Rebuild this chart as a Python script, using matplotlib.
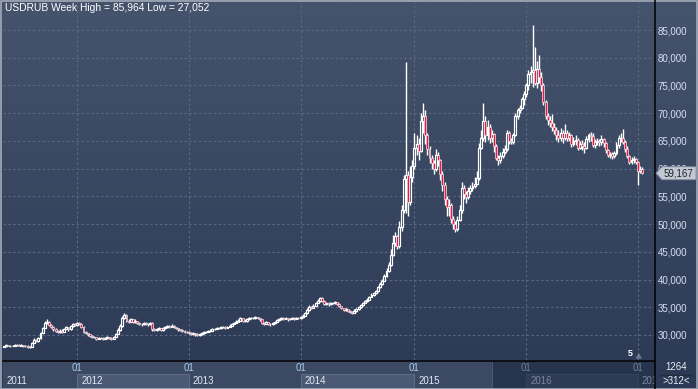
import matplotlib
matplotlib.use("Agg")
import matplotlib.pyplot as plt
import numpy as np
from matplotlib.patches import Rectangle, Polygon
from matplotlib.collections import LineCollection, PatchCollection

# ---------------- data (weekly USDRUB, May 2011 - Jan 2017) ----------------
close = [
    # 2011 (from mid May)
    27.95, 28.15, 28.05, 28.00, 28.10, 28.25, 28.20, 28.05, 28.15, 28.00, 28.10, 27.75,
    27.90, 28.60, 29.10, 28.90, 29.40, 30.40, 31.30, 32.20, 32.40, 31.80, 31.50, 31.00,
    30.70, 30.50, 30.80, 30.60, 31.10, 31.40, 31.00, 31.60, 32.00, 31.80,
    # 2012
    32.10, 32.00, 31.50, 30.50, 30.30, 30.10, 29.90, 29.70, 29.60, 29.30, 29.50, 29.40,
    29.30, 29.50, 29.60, 29.40, 29.30, 29.70, 30.20, 30.90, 31.60, 33.00, 33.60, 32.60,
    32.40, 32.80, 32.30, 32.50, 32.20, 32.00, 31.90, 32.10, 32.00, 31.90, 32.20, 31.00,
    30.90, 31.10, 31.20, 30.90, 31.20, 31.40, 31.60, 31.50, 31.70, 31.40, 31.20, 31.00,
    30.90, 30.70, 30.60, 30.50,
    # 2013
    30.40, 30.20, 30.30, 30.10, 30.00, 30.10, 30.30, 30.50, 30.60, 30.70, 30.80, 31.00,
    31.10, 31.30, 31.20, 31.50, 31.40, 31.30, 31.50, 31.70, 32.00, 32.20, 32.40, 32.60,
    33.00, 32.60, 32.50, 32.80, 33.00, 33.10, 33.00, 33.20, 33.00, 32.80, 32.10, 32.00,
    32.30, 32.00, 31.90, 32.10, 32.40, 32.70, 32.80, 33.00, 32.90, 33.00, 32.80, 32.90,
    33.00, 32.90, 33.10, 33.00,
    # 2014
    33.20, 33.50, 33.90, 34.50, 35.10, 34.90, 35.30, 35.80, 36.20, 36.60, 36.20, 35.60,
    35.80, 35.50, 35.80, 35.70, 35.90, 35.60, 35.20, 34.80, 34.50, 34.60, 34.40, 34.20,
    34.00, 34.40, 34.60, 35.00, 35.40, 35.80, 36.10, 36.40, 36.90, 37.20, 37.50, 37.90,
    38.60, 39.20, 39.80, 40.60, 41.50, 42.60, 44.50, 46.50, 47.80, 46.00, 49.50, 52.50,
    58.20, 58.80, 54.00, 58.50,
    # 2015
    60.50, 63.80, 64.50, 63.20, 68.50, 69.50, 66.00, 63.50, 62.00, 61.00, 60.00, 62.50,
    61.50, 59.00, 57.00, 54.50, 53.00, 53.50, 51.00, 50.00, 49.20, 50.80, 52.50, 56.50,
    55.50, 54.80, 56.00, 56.50, 56.80, 57.20, 58.30, 63.80, 65.50, 68.50, 66.00, 67.50,
    65.50, 66.20, 64.00, 62.00, 61.50, 62.20, 63.00, 63.50, 66.50, 65.00, 64.80, 66.00,
    69.50, 70.50, 71.00, 72.50,
    # 2016
    73.50, 75.00, 77.00, 77.50, 77.80, 75.50, 78.00, 76.50, 75.00, 72.00, 69.50, 68.70,
    68.20, 67.50, 67.00, 66.00, 65.50, 66.50, 65.50, 66.50, 65.50, 66.00, 64.50, 65.00,
    65.20, 63.80, 64.50, 64.00, 63.80, 65.30, 66.00, 65.80, 64.20, 64.80, 65.00, 64.80,
    65.40, 64.60, 63.40, 62.50, 62.60, 62.30, 62.80, 64.20, 65.50, 65.50, 64.80, 63.50,
    62.30, 61.20, 61.60, 61.80, 61.20, 59.50,
    # 2017
    60.00, 59.167,
]
high = [
    28.10, 28.30, 28.25, 28.20, 28.25, 28.40, 28.35, 28.30, 28.30, 28.25, 28.20, 28.15,
    28.10, 28.80, 29.40, 29.30, 29.70, 30.60, 31.50, 32.50, 32.90, 32.50, 32.00, 31.60,
    31.20, 30.90, 31.00, 31.00, 31.30, 31.60, 31.50, 31.80, 32.20, 32.20,
    32.30, 32.30, 32.10, 31.60, 30.70, 30.40, 30.20, 30.00, 29.90, 29.70, 29.70, 29.70,
    29.60, 29.70, 29.80, 29.70, 29.60, 29.90, 30.40, 31.20, 31.90, 33.40, 34.00, 33.70,
    32.80, 33.10, 32.90, 32.80, 32.60, 32.40, 32.20, 32.30, 32.30, 32.20, 32.40, 32.30,
    31.20, 31.30, 31.40, 31.30, 31.40, 31.60, 31.80, 31.80, 31.90, 31.80, 31.50, 31.30,
    31.10, 31.00, 30.90, 30.80,
    30.70, 30.50, 30.50, 30.40, 30.30, 30.30, 30.50, 30.70, 30.80, 30.90, 31.00, 31.20,
    31.30, 31.50, 31.50, 31.70, 31.70, 31.60, 31.70, 31.90, 32.20, 32.40, 32.70, 32.90,
    33.20, 33.10, 32.80, 33.00, 33.20, 33.30, 33.30, 33.40, 33.30, 33.10, 32.90, 32.30,
    32.50, 32.40, 32.20, 32.30, 32.60, 32.90, 33.00, 33.20, 33.20, 33.20, 33.10, 33.10,
    33.20, 33.20, 33.30, 33.30,
    33.40, 33.70, 34.10, 34.80, 35.40, 35.30, 35.50, 36.00, 36.50, 36.90, 36.80, 36.30,
    36.00, 35.90, 36.00, 36.00, 36.10, 36.00, 35.70, 35.30, 34.90, 34.80, 34.70, 34.50,
    34.30, 34.60, 34.80, 35.20, 35.60, 36.00, 36.40, 36.70, 37.10, 37.50, 37.80, 38.20,
    38.90, 39.50, 40.10, 41.00, 42.00, 43.20, 45.50, 48.00, 48.60, 48.00, 50.50, 53.50,
    58.80, 79.20, 59.50, 60.50,
    61.50, 66.40, 66.00, 65.50, 70.00, 71.80, 70.50, 66.50, 64.00, 62.50, 61.50, 63.50,
    63.00, 61.80, 59.50, 57.50, 55.00, 54.50, 53.80, 51.50, 50.50, 51.50, 53.50, 57.50,
    57.00, 56.00, 56.70, 57.00, 57.50, 58.50, 59.50, 64.60, 67.00, 71.80, 69.50, 68.80,
    68.00, 67.00, 66.50, 64.50, 62.50, 63.00, 63.80, 64.20, 67.00, 66.80, 65.50, 66.50,
    70.00, 71.00, 71.50, 73.00,
    74.00, 75.50, 77.80, 78.50, 85.96, 81.90, 79.50, 80.50, 77.50, 75.50, 72.30, 70.00,
    69.50, 69.80, 68.20, 67.50, 67.00, 67.30, 67.00, 68.00, 67.00, 66.60, 66.20, 65.70,
    66.00, 65.50, 65.00, 65.20, 64.80, 65.80, 66.50, 66.60, 66.40, 65.30, 65.60, 65.40,
    66.00, 65.60, 64.80, 63.60, 63.00, 63.00, 63.20, 64.80, 66.00, 66.50, 67.20, 65.20,
    64.00, 62.50, 62.10, 62.20, 62.00, 61.30,
    60.50, 60.30,
]
low = [
    27.75, 27.90, 27.95, 27.90, 27.95, 28.00, 28.05, 27.95, 27.95, 27.90, 27.90, 27.60,
    27.65, 27.85, 28.50, 28.70, 28.80, 29.30, 30.30, 31.20, 32.00, 31.60, 31.30, 30.80,
    30.50, 30.30, 30.40, 30.40, 30.50, 31.00, 30.80, 30.90, 31.50, 31.60,
    31.70, 31.80, 31.30, 30.30, 30.10, 29.90, 29.70, 29.50, 29.40, 29.10, 29.20, 29.20,
    29.10, 29.20, 29.30, 29.20, 29.10, 29.20, 29.60, 30.10, 30.80, 31.50, 32.80, 32.40,
    32.10, 32.30, 32.10, 32.20, 32.00, 31.80, 31.70, 31.80, 31.80, 31.70, 31.80, 30.80,
    30.70, 30.80, 30.90, 30.70, 30.80, 31.10, 31.30, 31.30, 31.40, 31.20, 31.00, 30.80,
    30.70, 30.50, 30.40, 30.30,
    30.20, 30.00, 30.00, 29.90, 29.80, 29.90, 30.00, 30.20, 30.40, 30.50, 30.60, 30.70,
    30.90, 31.00, 31.00, 31.10, 31.20, 31.10, 31.20, 31.40, 31.60, 31.90, 32.10, 32.30,
    32.50, 32.40, 32.30, 32.40, 32.70, 32.90, 32.80, 32.90, 32.80, 32.60, 31.90, 31.80,
    31.90, 31.80, 31.70, 31.80, 32.00, 32.30, 32.60, 32.70, 32.70, 32.80, 32.60, 32.70,
    32.80, 32.70, 32.80, 32.80,
    32.90, 33.10, 33.40, 33.80, 34.40, 34.70, 34.80, 35.20, 35.70, 36.00, 36.00, 35.40,
    35.40, 35.30, 35.40, 35.50, 35.60, 35.40, 35.00, 34.60, 34.30, 34.30, 34.20, 34.00,
    33.80, 33.90, 34.20, 34.50, 34.90, 35.30, 35.70, 36.00, 36.30, 36.80, 37.10, 37.40,
    37.80, 38.50, 39.10, 39.70, 40.50, 41.40, 42.50, 44.30, 46.00, 45.50, 45.70, 48.80,
    52.00, 52.00, 51.50, 53.50,
    57.50, 60.00, 62.50, 61.60, 63.00, 66.50, 64.50, 62.50, 61.00, 60.00, 59.00, 59.50,
    60.50, 58.00, 56.00, 53.50, 51.50, 51.50, 50.20, 49.20, 48.50, 48.80, 50.50, 52.00,
    54.50, 53.80, 54.50, 55.50, 56.00, 56.50, 57.00, 58.00, 63.50, 65.00, 64.80, 65.20,
    64.60, 64.80, 63.00, 61.50, 60.60, 61.00, 62.00, 62.60, 63.20, 64.50, 64.40, 64.50,
    65.80, 69.00, 70.00, 70.80,
    71.50, 73.00, 74.20, 75.50, 74.70, 75.00, 74.50, 75.50, 74.00, 71.50, 69.00, 67.80,
    67.50, 66.80, 66.20, 65.20, 64.80, 65.00, 64.60, 65.20, 65.00, 65.00, 63.90, 64.00,
    64.30, 63.30, 63.50, 63.40, 62.80, 63.50, 64.80, 65.00, 63.90, 63.80, 64.30, 64.00,
    64.30, 63.90, 62.80, 62.10, 62.00, 61.80, 62.00, 62.50, 63.80, 64.80, 64.50, 63.00,
    62.00, 60.90, 60.80, 61.00, 60.80, 57.05,
    59.20, 59.00,
]
first_open = 27.85
year_labels = ["2011", "2012", "2013", "2014", "2015", "2016", "2017"]
year_start_idx = [34, 86, 138, 191, 243, 295]     # first weekly bar of each new year
y_ticks = [30, 35, 40, 45, 50, 55, 60, 65, 70, 75, 80, 85]
title = "USDRUB Week High = 85,964 Low = 27,052"
bars_total = "1264"
bars_shown = ">312<"

# ---------------- figure ----------------
W, H = 698, 389
fig = plt.figure(figsize=(W / 100, H / 100), dpi=100)
FONT = "Liberation Sans"

def fr(px, py, w, h):
    """pixel box (from top-left) -> figure fraction rect"""
    return [px / W, 1 - (py + h) / H, w / W, h / H]

# background gradient
bg = fig.add_axes([0, 0, 1, 1])
bg.set_axis_off()
t = np.linspace(0, 1, 256)[:, None, None]
c_top = np.array([0x45, 0x53, 0x6c]) / 255
c_bot = np.array([0x2b, 0x39, 0x55]) / 255
grad = c_top * (1 - t) + c_bot * t
grad = np.repeat(grad, 2, axis=1)
bg.imshow(grad, extent=[0, 1, 0, 1], aspect="auto", origin="upper")
bg.set_xlim(0, 1)
bg.set_ylim(0, 1)

# main chart axes
ax = fig.add_axes(fr(3, 2, 652, 358))
ax.set_facecolor("none")
for s in ax.spines.values():
    s.set_visible(False)
XMIN, XMAX = -0.465, 302.93
YMIN, YMAX = 25.49, 90.05
ax.set_xlim(XMIN, XMAX)
ax.set_ylim(YMIN, YMAX)

# grid
grid_kw = dict(color="#5a6983", lw=0.8, dashes=(2.2, 2.2), zorder=1)
for v in y_ticks:
    ax.axhline(v, **grid_kw)
for xi in year_start_idx:
    ax.axvline(xi, **grid_kw)

# candles
n = len(close)
opens = [first_open] + close[:-1]
red = "#ee1744"
wick_segs = []
up_rects, dn_rects = [], []
bw = 0.9
for i in range(n):
    o, c, h, l = opens[i], close[i], high[i], low[i]
    top_b, bot_b = max(o, c), min(o, c)
    wick_segs.append([(i, top_b), (i, h)])
    wick_segs.append([(i, l), (i, bot_b)])
    r = Rectangle((i - bw / 2, bot_b), bw, max(top_b - bot_b, 0.06))
    (dn_rects if c < o else up_rects).append(r)
ax.add_collection(LineCollection(wick_segs, colors="white", linewidths=1.0, zorder=3))
ax.add_collection(PatchCollection(up_rects, facecolor="none", edgecolor="white",
                                  linewidths=0.85, zorder=4))
ax.add_collection(PatchCollection(dn_rects, facecolor=red, edgecolor="white",
                                  linewidths=0.45, zorder=5))

# right-side price labels
ax.yaxis.tick_right()
ax.set_yticks(y_ticks)
ax.set_yticklabels([f"{v:.3f}".replace(".", ",") for v in y_ticks])
ax.tick_params(axis="y", length=0, pad=2, labelsize=7, labelcolor="#d4e0f2")
for lab in ax.get_yticklabels():
    lab.set_fontfamily(FONT)
ax.set_xticks([])

# title
ax.text(0.003, 0.997, title, transform=ax.transAxes, ha="left", va="top",
        color="white", fontsize=7.4, family=FONT)

# "5" marker
ax.text(0.962, 0.006, "5", transform=ax.transAxes, ha="center", va="bottom",
        color="white", fontsize=6.5, fontweight="bold", family=FONT)
ax.add_patch(Polygon([(0.970, 0.004), (0.980, 0.004), (0.975, 0.020)], closed=True,
                     transform=ax.transAxes, facecolor="#6d7a92", edgecolor="none"))

# ---------------- bottom time axis panel ----------------
bx = fig.add_axes(fr(3, 360, 652, 29))
bx.set_axis_off()
bx.set_xlim(3, 655)
bx.set_ylim(389, 360)

def idx2px(i):
    return 3 + (i - XMIN) * 652 / (XMAX - XMIN)

bx.add_patch(Rectangle((3, 360), 652, 29, facecolor="#3c4963", edgecolor="none"))
edges = [3] + [idx2px(i) for i in year_start_idx] + [700]
dark_x = 492
bx.add_patch(Rectangle((dark_x, 361), 655 - dark_x, 28, facecolor="#27344d",
                       edgecolor="none", zorder=2))
for k, lab in enumerate(year_labels):
    x0, x1 = edges[k], edges[k + 1]
    dim = x0 >= dark_x
    if k % 2 == 1:
        fc = "#2e3b55" if dim else "#4b5975"
        ec = "#35425c" if dim else "#5d6b87"
        bx.add_patch(Rectangle((x0, 374), min(x1, 655) - x0, 14.5, facecolor=fc,
                               edgecolor=ec, lw=0.8, zorder=3 if dim else 1))
    bx.text(x0 + 4 if k else 7, 381.5, lab, ha="left", va="center", fontsize=7,
            family=FONT, color="#7a879c" if dim else "#e2eaf6", zorder=4, clip_on=True)
for xi in year_start_idx:
    px = idx2px(xi)
    dim = px >= dark_x
    bx.text(px, 368, "01", ha="center", va="center", fontsize=7, family=FONT,
            color="#6f7d95" if dim else "#a9cbef", zorder=4, clip_on=True)
bx.axvline(dark_x, color="#4a5670", lw=0.8, zorder=3)

# ---------------- frame lines ----------------
fig.add_artist(plt.Line2D([655 / W, 655 / W], [0, 1], color="black", lw=1.1))
fig.add_artist(plt.Line2D([3 / W, 655 / W], [1 - 360.5 / H, 1 - 360.5 / H],
                          color="black", lw=1.1))

# last price tag (covers the 60,000 label like in the original)
yv = close[-1]
py = 2 + (YMAX - yv) * 358 / (YMAX - YMIN)
tag = [(656, py), (662, py - 6.5), (696, py - 6.5), (696, py + 6.5), (662, py + 6.5)]
fig.add_artist(Polygon([(x / W, 1 - y / H) for x, y in tag], closed=True,
                       facecolor="#c4c9d1", edgecolor="#7f889a", lw=0.6, zorder=10))
fig.text(664 / W, 1 - py / H, f"{yv:.3f}".replace(".", ","), ha="left", va="center",
         fontsize=7, family=FONT, color="#1a2232", zorder=11)

# bottom-right counter box
fig.text(676 / W, 1 - 367.5 / H, bars_total, ha="center", va="center", fontsize=7,
         family=FONT, color="#e8eef8")
fig.add_artist(plt.Line2D([661 / W, 691 / W], [1 - 375 / H, 1 - 375 / H],
                          color="#222a3a", lw=0.8))
fig.text(676 / W, 1 - 381.5 / H, bars_shown, ha="center", va="center", fontsize=7,
         family=FONT, color="#e8eef8")

# outer border
fig.add_artist(Rectangle((0.5 / W, 0.5 / H), 1 - 1.5 / W, 1 - 1.5 / H, fill=False,
                         edgecolor="#a3acba", lw=1.2, transform=fig.transFigure))

fig.savefig("out.png", dpi=100)
